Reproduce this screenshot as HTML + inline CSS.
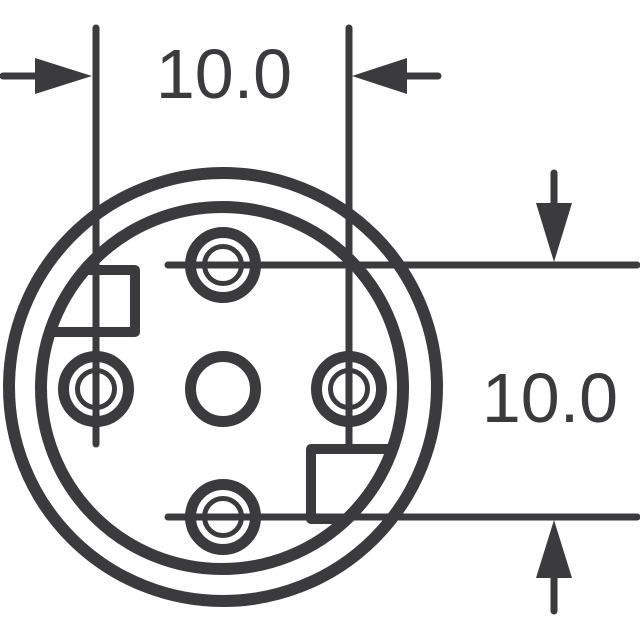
<!DOCTYPE html>
<html><head><style>html,body{margin:0;padding:0;background:#fff;}svg{display:block}</style></head>
<body>
<svg width="640" height="640" viewBox="0 0 640 640" xmlns="http://www.w3.org/2000/svg">
<defs>
<clipPath id="ic"><circle cx="222" cy="388" r="182"/></clipPath>
</defs>
<g stroke="#3b3b3d" fill="none" stroke-linecap="round" stroke-linejoin="round">
<!-- circles -->
<circle cx="223" cy="387" r="214" stroke-width="12"/>
<circle cx="222" cy="388" r="181" stroke-width="12"/>
<!-- squares clipped -->
<g clip-path="url(#ic)">
<rect x="20" y="270" width="115" height="62" stroke-width="10"/>
<rect x="311" y="449" width="120" height="70" stroke-width="10"/>
</g>
<!-- dimension lines -->
<line x1="96" y1="28" x2="96" y2="444" stroke-width="7"/>
<line x1="349" y1="28" x2="349" y2="444" stroke-width="7"/>
<line x1="168" y1="265" x2="637" y2="265" stroke-width="7"/>
<line x1="168" y1="517" x2="637" y2="517" stroke-width="7"/>
<line x1="3" y1="76" x2="40" y2="76" stroke-width="7"/>
<line x1="400" y1="76" x2="438" y2="76" stroke-width="7"/>
<line x1="554" y1="173" x2="554" y2="210" stroke-width="7"/>
<line x1="554" y1="570" x2="554" y2="611" stroke-width="7"/>
<!-- pins -->
<g stroke-width="11">
<circle cx="223" cy="265" r="32.5"/>
<circle cx="96" cy="389" r="32.5"/>
<circle cx="349" cy="389" r="32.5"/>
<circle cx="223" cy="517" r="32.5"/>
<circle cx="223" cy="389" r="32.5"/>
</g>
<g stroke-width="5">
<circle cx="223" cy="265" r="18.5"/>
<circle cx="96" cy="389" r="18.5"/>
<circle cx="349" cy="389" r="18.5"/>
<circle cx="223" cy="517" r="18.5"/>
</g>
</g>
<g fill="#3b3b3d">
<polygon points="35,58 92,76 35,94"/>
<polygon points="407,58 352,76 407,94"/>
<polygon points="536,203 572,203 554,262"/>
<polygon points="536,578 572,578 554,520"/>
<text x="224" y="98" font-family="Liberation Sans, sans-serif" font-size="70" text-anchor="middle">10.0</text>
<text x="550" y="422" font-family="Liberation Sans, sans-serif" font-size="70" text-anchor="middle">10.0</text>
</g>
</svg>
</body></html>
